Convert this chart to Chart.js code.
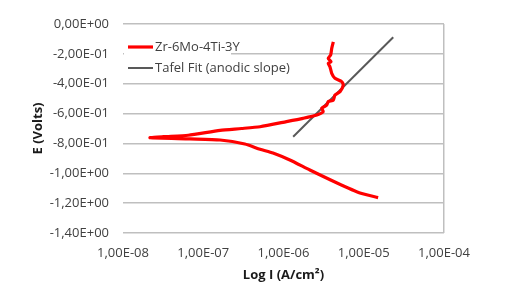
<!DOCTYPE html>
<html>
<head>
<meta charset="utf-8">
<script src="https://cdn.jsdelivr.net/npm/chart.js@4"></script>
<style>
    html, body { margin: 0; padding: 0; background: #fff; }
    #wrap { width: 520px; height: 300px; position: relative; }
</style>
</head>
<body>
<div id="wrap"><canvas id="tafelChart"></canvas></div>
<script>
// Courbe de polarisation (I en A/cm2, E en V)
const polCurrent = [1.51e-5, 8.97e-6, 4.65e-6, 2.13e-6, 1.2e-6, 7.4e-7, 5.1e-7, 3.3e-7, 1.62e-7, 6.84e-8, 2.17e-8,
    3.2e-8, 6.5e-8, 1.62e-7, 3.0e-7, 5.1e-7, 1.09e-6, 1.75e-6, 2.6e-6, 3.13e-6, 2.99e-6, 3.45e-6, 3.61e-6,
    4.18e-6, 4.38e-6, 5.06e-6, 5.56e-6, 5.31e-6, 4.38e-6, 3.99e-6, 3.79e-6, 3.61e-6, 3.91e-6, 3.61e-6,
    3.87e-6, 3.99e-6, 4.18e-6];
const polPotential = [-1.163, -1.132, -1.065, -0.978, -0.911, -0.864, -0.839, -0.804, -0.777, -0.770, -0.762,
    -0.755, -0.745, -0.712, -0.700, -0.688, -0.654, -0.632, -0.610, -0.587, -0.565, -0.543, -0.520,
    -0.509, -0.476, -0.453, -0.409, -0.386, -0.364, -0.330, -0.286, -0.263, -0.253, -0.230,
    -0.208, -0.163, -0.119];

// Droite de Tafel (pente anodique)
const tafelCurrent = [1.32e-6, 2.33e-5];
const tafelPotential = [-0.755, -0.089];

const seriesNames = ['Zr-6Mo-4Ti-3Y', 'Tafel Fit (anodic slope)'];

// Graduations
const xTicks = [1e-8, 1e-7, 1e-6, 1e-5, 1e-4];
const xTickLabels = ['1,00E-08', '1,00E-07', '1,00E-06', '1,00E-05', '1,00E-04'];
const yTicks = [0, -0.2, -0.4, -0.6, -0.8, -1.0, -1.2, -1.4];
const yTickLabels = ['0,00E+00', '-2,00E-01', '-4,00E-01', '-6,00E-01', '-8,00E-01', '-1,00E+00', '-1,20E+00', '-1,40E+00'];

const FONT = "'Open Sans', sans-serif";

function toPoints(xs, ys) {
    return xs.map((x, i) => ({ x: x, y: ys[i] }));
}

// Légende dessinée dans la zone du graphique
const innerLegend = {
    id: 'innerLegend',
    afterDraw(chart) {
        const ctx = chart.ctx;
        const area = chart.chartArea;
        const x0 = area.left + 5;
        const y0 = area.top + 23;
        ctx.save();
        ctx.fillStyle = '#fff';
        ctx.fillRect(area.left + 1, y0 - 10, 107, 41);
        ctx.font = '13px ' + FONT;
        ctx.textBaseline = 'middle';
        chart.data.datasets.forEach((ds, i) => {
            const y = y0 + i * 21;
            ctx.strokeStyle = ds.borderColor;
            ctx.lineWidth = ds.borderWidth;
            ctx.beginPath();
            ctx.moveTo(x0, y);
            ctx.lineTo(x0 + 25, y);
            ctx.stroke();
            ctx.fillStyle = '#404040';
            ctx.fillText(ds.label, x0 + 27, y);
        });
        ctx.restore();
    }
};

new Chart(document.getElementById('tafelChart'), {
    type: 'scatter',
    data: {
        datasets: [{
            label: seriesNames[0],
            data: toPoints(polCurrent, polPotential),
            showLine: true,
            borderColor: '#ff0000',
            borderWidth: 3.2,
            pointRadius: 0,
            tension: 0.2
        }, {
            label: seriesNames[1],
            data: toPoints(tafelCurrent, tafelPotential),
            showLine: true,
            borderColor: '#595959',
            borderWidth: 2,
            pointRadius: 0
        }]
    },
    options: {
        responsive: true,
        maintainAspectRatio: false,
        animation: false,
        layout: { padding: { top: 24, right: 76, left: 0, bottom: 0 } },
        plugins: {
            legend: { display: false },
            tooltip: { enabled: false }
        },
        scales: {
            x: {
                type: 'logarithmic',
                min: 1e-8,
                max: 1e-4,
                afterBuildTicks: scale => { scale.ticks = xTicks.map(v => ({ value: v })); },
                afterFit: scale => { scale.height = 67; },
                ticks: {
                    padding: 12,
                    color: '#404040',
                    font: { family: FONT, size: 13 },
                    maxRotation: 0,
                    callback: (v, i) => xTickLabels[i]
                },
                grid: {
                    drawTicks: false,
                    color: c => (c.tick && c.tick.value === 1e-4 ? '#bfbfbf' : 'rgba(0,0,0,0)'),
                    lineWidth: 1.5
                },
                border: { display: false },
                title: {
                    display: true,
                    text: 'Log I (A/cm²)',
                    color: '#1a1a1a',
                    font: { family: FONT, size: 13, weight: 'bold' },
                    padding: { bottom: 17 }
                }
            },
            y: {
                min: -1.4,
                max: 0,
                afterBuildTicks: scale => { scale.ticks = yTicks.map(v => ({ value: v })); },
                afterFit: scale => { scale.width = 123; },
                ticks: {
                    padding: 14,
                    color: '#404040',
                    font: { family: FONT, size: 13 },
                    callback: (v, i) => yTickLabels[i]
                },
                grid: {
                    drawTicks: false,
                    color: '#bfbfbf',
                    lineWidth: 1.5
                },
                border: { display: false },
                title: {
                    display: true,
                    text: 'E (Volts)',
                    color: '#1a1a1a',
                    font: { family: FONT, size: 13, weight: 'bold' },
                    padding: { top: 30 }
                }
            }
        }
    },
    plugins: [innerLegend]
});
</script>
</body>
</html>
